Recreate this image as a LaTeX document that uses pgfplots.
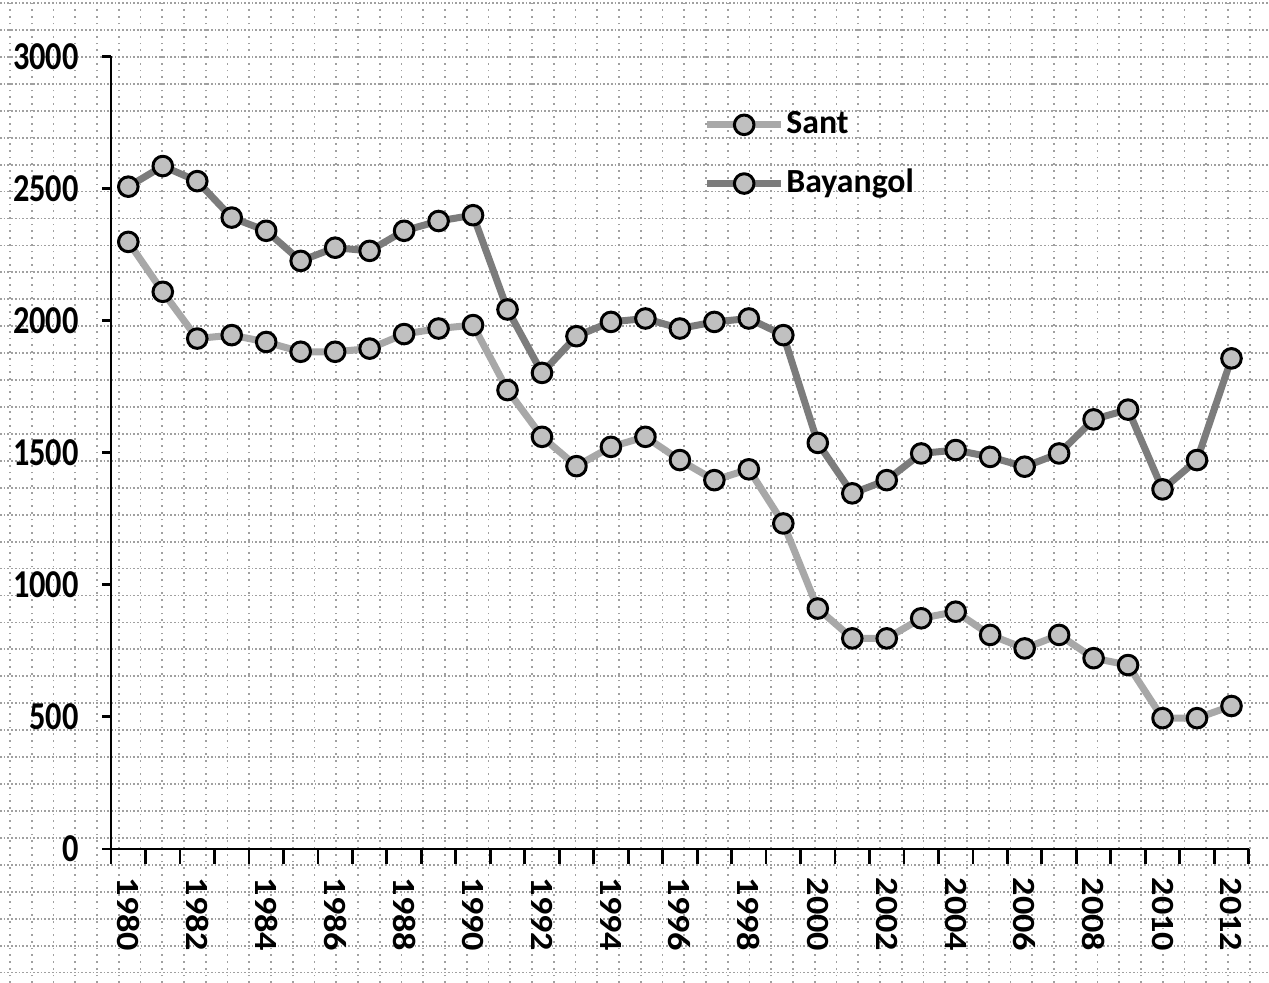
\documentclass[border=0pt]{standalone}
\usepackage{pgfplots}
\usepackage{pgfplotstable}
\pgfplotsset{compat=1.18}
\usepackage{fontspec}
\setmainfont{Carlito}

\definecolor{santline}{HTML}{A8A8A8}
\definecolor{bayline}{HTML}{7C7C7C}
\definecolor{mkfill}{HTML}{C0C0C0}
\definecolor{gridc}{HTML}{A0A0A0}

\pgfplotstableread{
year sant bay
1980 2298 2507
1981 2109 2585
1982 1932 2528
1983 1945 2390
1984 1919 2340
1985 1882 2226
1986 1882 2276
1987 1894 2264
1988 1949 2340
1989 1970 2377
1990 1983 2399
1991 1737 2042
1992 1560 1802
1993 1449 1941
1994 1522 1995
1995 1560 2008
1996 1472 1970
1997 1396 1995
1998 1437 2008
1999 1232 1945
2000 910 1537
2001 797 1346
2002 797 1396
2003 873 1497
2004 898 1510
2005 810 1484
2006 759 1447
2007 810 1497
2008 722 1626
2009 696 1663
2010 495 1361
2011 495 1472
2012 541 1857
}\datatable

\begin{document}
\begin{tikzpicture}
\begin{scope}[x=0.01cm,y=0.01cm]
\useasboundingbox (0,0) rectangle (1269,983);
\foreach \k in {-1,...,35} {
  \draw[gridc, line width=0.018cm, dash pattern=on 0.017cm off 0.02cm]
    (0,{983-(30+26.93*\k)}) -- (1269,{983-(30+26.93*\k)});
}
\foreach \k in {0,...,58} {
  \draw[gridc, line width=0.018cm, dash pattern=on 0.017cm off 0.05cm]
    ({10+21.75*\k},0) -- ({10+21.75*\k},983);
}
\end{scope}
\begin{axis}[
  at={(1.11cm,1.34cm)}, anchor=south west,
  scale only axis, width=11.37cm, height=7.92cm,
  xmin=1979.5, xmax=2012.5, ymin=0, ymax=3000,
  axis x line=bottom, axis y line=left,
  axis line style={-, line width=0.028cm, black},
  tick align=outside,
  xtick={1980,1982,...,2012},
  minor xtick={1979.5,1980.5,...,2012.5},
  ytick={0,500,...,3000},
  major tick length=0.09cm, minor tick length=0.15cm,
  tick style={line width=0.028cm, black},
  major x tick style={draw=none},
  /pgf/number format/1000 sep={},
  /pgf/number format/assume math mode=true,
  tick label style={font=\fontsize{9.2}{11}\selectfont\bfseries},
  yticklabel style={anchor=east, yscale=1.22},
  yticklabel shift=0.11cm,
  xticklabel style={rotate=-90, anchor=west, xscale=1.12},
  xticklabel shift=0.06cm,
  legend style={at={(axis description cs:0.511,0.943)}, anchor=north west,
    draw=none, fill=none, font=\fontsize{9.6}{11}\selectfont\bfseries,
    row sep=0.27cm, nodes={inner sep=0.5pt}},
  legend cell align=left,
  legend image code/.code={\draw[mark repeat=2,mark phase=2,#1] plot coordinates {(0cm,0cm) (0.37cm,0cm) (0.74cm,0cm)};},
  clip=false,
]
\addplot[santline, line width=0.07cm, line join=round, mark=*, mark size=0.098cm,
  mark options={fill=mkfill, draw=black, line width=0.03cm}]
  table[x=year,y=sant]{\datatable};
\addlegendentry{Sant}
\addplot[bayline, line width=0.07cm, line join=round, mark=*, mark size=0.098cm,
  mark options={fill=mkfill, draw=black, line width=0.03cm}]
  table[x=year,y=bay]{\datatable};
\addlegendentry{Bayangol}
\end{axis}
\end{tikzpicture}
\end{document}
